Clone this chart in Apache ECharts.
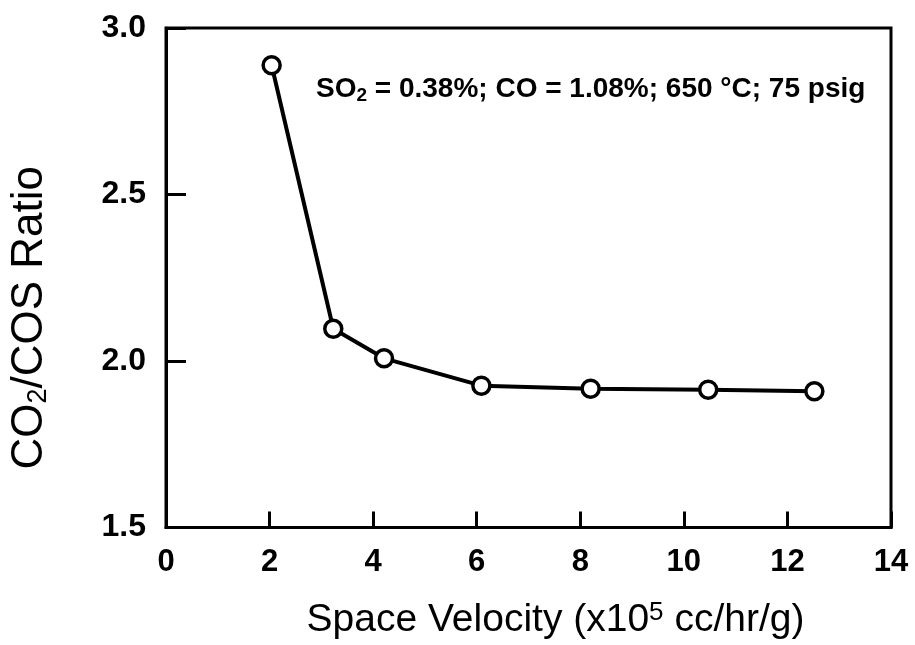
<!DOCTYPE html>
<html>
<head>
<meta charset="utf-8">
<script src="https://cdn.jsdelivr.net/npm/echarts@6/dist/echarts.min.js"></script>
<style>
html,body{margin:0;padding:0;background:#fff;}
#chart{width:915px;height:645px;}
</style>
</head>
<body>
<div id="chart"></div>
<script>
// Data
var spaceVelocity = [2.04, 3.23, 4.21, 6.09, 8.20, 10.47, 12.52];
var co2CosRatio   = [2.888, 2.097, 2.008, 1.926, 1.917, 1.914, 1.909];
var xTicks = [0, 2, 4, 6, 8, 10, 12, 14];
var yTicks = [1.5, 2.0, 2.5, 3.0];

var FONT = '"Liberation Sans", Arial, Helvetica, sans-serif';
var points = spaceVelocity.map(function (x, i) { return [x, co2CosRatio[i]]; });

var chart = echarts.init(document.getElementById('chart'), null, {renderer: 'canvas'});
chart.setOption({
  animation: false,
  backgroundColor: '#ffffff',
  title: {
    left: 311, top: 68,
    text: '{m|SO}{s|2}{m| = 0.38%; CO = 1.08%; 650 °C; 75 psig}',
    textStyle: {
      rich: {
        m: {fontFamily: FONT, fontWeight: 'bold', fontSize: 28, color: '#000', lineHeight: 32},
        s: {fontFamily: FONT, fontWeight: 'bold', fontSize: 19, color: '#000', verticalAlign: 'bottom', lineHeight: 18}
      }
    }
  },
  grid: {
    left: 164, right: 24, top: 28, bottom: 113,
    show: true, borderColor: '#000', borderWidth: 3, backgroundColor: 'transparent'
  },
  xAxis: {
    type: 'value',
    min: xTicks[0], max: xTicks[xTicks.length - 1], interval: 2,
    name: '{m|Space Velocity (x10}{p|5}{m| cc/hr/g)}',
    nameLocation: 'middle', nameGap: 72,
    nameTextStyle: {
      padding: [0, 0, 0, 54],
      rich: {
        m: {fontFamily: FONT, fontSize: 39, color: '#000', lineHeight: 42},
        p: {fontFamily: FONT, fontSize: 26, color: '#000', verticalAlign: 'top', lineHeight: 24}
      }
    },
    axisLine: {show: true, onZero: false, lineStyle: {color: '#000', width: 3}},
    axisTick: {show: true, inside: true, length: 16, lineStyle: {color: '#000', width: 3}},
    axisLabel: {margin: 19, fontFamily: FONT, fontWeight: 'bold', fontSize: 31, color: '#000'},
    splitLine: {show: false}
  },
  yAxis: {
    type: 'value',
    min: yTicks[0], max: yTicks[yTicks.length - 1], interval: 0.5,
    name: '{m|CO}{s|2}{m|/COS Ratio}',
    nameLocation: 'middle', nameGap: 114, nameRotate: 90,
    nameTextStyle: {
      padding: [0, 80, 0, 0],
      rich: {
        m: {fontFamily: FONT, fontSize: 44, color: '#000', lineHeight: 44},
        s: {fontFamily: FONT, fontSize: 27, color: '#000', verticalAlign: 'bottom', lineHeight: 26}
      }
    },
    axisLine: {show: true, lineStyle: {color: '#000', width: 3}},
    axisTick: {show: true, inside: true, length: 20, lineStyle: {color: '#000', width: 3}},
    axisLabel: {
      margin: 20, fontFamily: FONT, fontWeight: 'bold', fontSize: 32, color: '#000',
      formatter: function (v) { return v.toFixed(1); }
    },
    splitLine: {show: false}
  },
  series: [{
    type: 'line',
    data: points,
    symbol: 'circle',
    symbolSize: 17,
    showAllSymbol: true,
    lineStyle: {color: '#000', width: 4},
    itemStyle: {color: '#fff', borderColor: '#000', borderWidth: 3.5},
    z: 5
  }]
});
</script>
</body>
</html>
